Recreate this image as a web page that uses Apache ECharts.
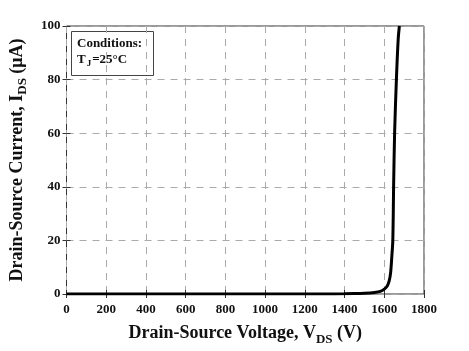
<!DOCTYPE html>
<html>
<head>
<meta charset="utf-8">
<script src="https://cdn.jsdelivr.net/npm/echarts@6/dist/echarts.min.js"></script>
<style>
  html, body { margin: 0; padding: 0; background: #fff; }
  #chart { width: 469px; height: 351px; }
</style>
</head>
<body>
<div id="chart"></div>
<script>
// drain-source voltage (V) and leakage current (uA)
const vds = [0, 200, 400, 600, 800, 1000, 1200, 1300, 1400, 1450, 1500, 1550, 1580, 1600, 1615, 1625, 1632, 1638, 1643, 1647, 1652, 1661, 1670, 1676];
const ids = [0, 0, 0, 0, 0, 0, 0, 0.02, 0.08, 0.15, 0.3, 0.6, 1.0, 1.8, 3, 5, 8, 14, 20, 40, 60, 80, 95, 100];
const xTicks = [0, 200, 400, 600, 800, 1000, 1200, 1400, 1600, 1800];
const yTicks = [0, 20, 40, 60, 80, 100];

const font = 'Liberation Serif';
const chart = echarts.init(document.getElementById('chart'));

const gridLine = { show: true, lineStyle: { color: '#aaa', type: [7, 6], width: 1 } };
const plain = v => String(v);

chart.setOption({
    animation: false,
    grid: { left: 61, right: 45, top: 26, bottom: 52, show: true, borderColor: '#333', borderWidth: 1 },
    xAxis: [
        {
            type: 'value', min: xTicks[0], max: xTicks[xTicks.length - 1], interval: 200,
            axisLine: { show: false },
            axisTick: { inside: true, length: 4, lineStyle: { color: '#333' } },
            splitLine: gridLine,
            axisLabel: { fontFamily: font, fontWeight: 'bold', fontSize: 13, color: '#111', margin: 9, formatter: plain },
            name: '{b|Drain-Source Voltage, V}{s|DS}{b| (V)}',
            nameLocation: 'middle', nameGap: 27,
            nameTextStyle: {
                rich: {
                    b: { fontFamily: font, fontWeight: 'bold', fontSize: 18, color: '#111' },
                    s: { fontFamily: font, fontWeight: 'bold', fontSize: 13, color: '#111', padding: [12, 0, 0, 0] }
                }
            }
        },
        {
            type: 'value', min: 0, max: 1800, interval: 200, position: 'top',
            axisLine: { show: false }, axisLabel: { show: false }, splitLine: { show: false },
            axisTick: { inside: true, length: 4, lineStyle: { color: '#333' } }
        }
    ],
    yAxis: [
        {
            type: 'value', min: yTicks[0], max: yTicks[yTicks.length - 1], interval: 20,
            axisLine: { show: false },
            axisTick: { inside: true, length: 4, lineStyle: { color: '#333' } },
            splitLine: gridLine,
            axisLabel: { fontFamily: font, fontWeight: 'bold', fontSize: 13, color: '#111', margin: 6, formatter: plain },
            name: '{b|Drain-Source Current, I}{s|DS}{b| (μA)}',
            nameLocation: 'middle', nameGap: 37,
            nameTextStyle: {
                rich: {
                    b: { fontFamily: font, fontWeight: 'bold', fontSize: 18, color: '#111' },
                    s: { fontFamily: font, fontWeight: 'bold', fontSize: 13, color: '#111', padding: [12, 0, 0, 0] }
                }
            }
        },
        {
            type: 'value', min: 0, max: 100, interval: 20, position: 'right',
            axisLine: { show: false }, axisLabel: { show: false }, splitLine: { show: false },
            axisTick: { inside: true, length: 4, lineStyle: { color: '#333' } }
        }
    ],
    series: [
        {
            type: 'line',
            data: vds.map((v, i) => [v, ids[i]]),
            showSymbol: false,
            smooth: 0.3,
            lineStyle: { color: '#000', width: 3 },
            clip: true
        }
    ],
    graphic: [
        {
            type: 'rect', left: 71, top: 31,
            shape: { width: 82, height: 44 },
            style: { fill: '#fff', stroke: '#444', lineWidth: 1 }
        },
        {
            type: 'text', left: 77, top: 37,
            style: { text: 'Conditions:', font: 'bold 13px "Liberation Serif"', fill: '#111' }
        },
        {
            type: 'text', left: 77, top: 53,
            style: {
                text: '{b|T}{s|J}{b|=25°C}',
                rich: {
                    b: { font: 'bold 13px "Liberation Serif"', fill: '#111' },
                    s: { font: 'bold 9px "Liberation Serif"', fill: '#111', padding: [9, 1, 0, 1] }
                }
            }
        }
    ]
});
</script>
</body>
</html>
